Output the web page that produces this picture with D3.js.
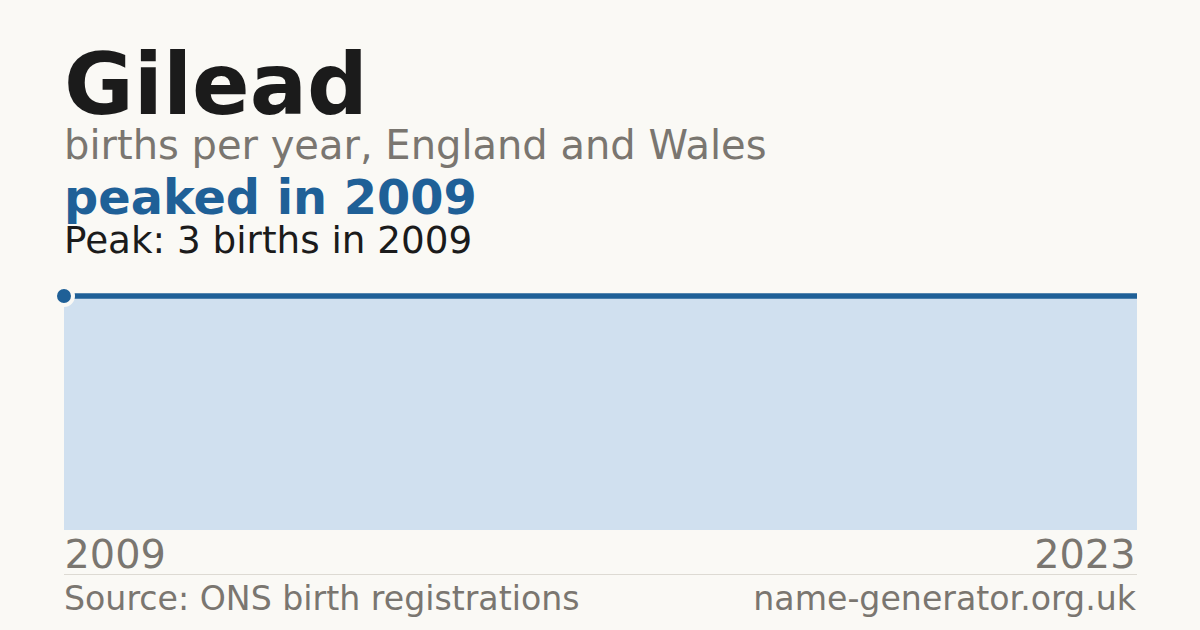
<!DOCTYPE html>
<html><head><meta charset="utf-8">
<script src="https://cdn.jsdelivr.net/npm/d3@7"></script>
<style>html,body{margin:0;padding:0;background:#faf9f5;}svg{display:block;font-family:"DejaVu Sans",sans-serif;}</style>
</head><body>
<script>
const years = [2009,2010,2011,2012,2013,2014,2015,2016,2017,2018,2019,2020,2021,2022,2023];
const births = [3,3,3,3,3,3,3,3,3,3,3,3,3,3,3];
const tickLabels = ["2009","2023"];
const title = "Gilead";
const subtitle = "births per year, England and Wales";
const headline = "peaked in 2009";
const peakNote = "Peak: 3 births in 2009";
const sourceText = "Source: ONS birth registrations";
const siteText = "name-generator.org.uk";

const W = 1200, H = 630;
const svg = d3.select("body").append("svg").attr("width", W).attr("height", H);
svg.append("rect").attr("width", W).attr("height", H).attr("fill", "#faf9f5");

const data = years.map((y,i)=>({year:y, value:births[i]}));
const x = d3.scaleLinear().domain([years[0], years[years.length-1]]).range([64, 1137]);
const y = d3.scaleLinear().domain([0, d3.max(births)]).range([530, 296]);

svg.append("text").attr("x",64).attr("y",114).attr("font-size",85).attr("font-weight","bold").attr("fill","#1b1b1b").text(title);
svg.append("text").attr("x",64).attr("y",159).attr("font-size",40).attr("fill","#7a7670").text(subtitle);
svg.append("text").attr("x",64).attr("y",214).attr("font-size",47.8).attr("font-weight","bold").attr("fill","#1f6097").text(headline);
svg.append("text").attr("x",64).attr("y",253).attr("font-size",37.3).attr("fill","#1b1b1b").text(peakNote);

svg.append("path").datum(data)
  .attr("d", d3.area().x(d=>x(d.year)).y0(y(0)).y1(d=>y(d.value)))
  .attr("fill","#d0e0ef");
svg.append("path").datum(data)
  .attr("d", d3.line().x(d=>x(d.year)).y(d=>y(d.value)))
  .attr("fill","none").attr("stroke","#1f6097").attr("stroke-width",5.5);

const peakIdx = births.indexOf(d3.max(births));
svg.append("circle").attr("cx", x(years[peakIdx])).attr("cy", y(births[peakIdx])).attr("r",9)
  .attr("fill","#1f6097").attr("stroke","#faf9f5").attr("stroke-width",4);

const axis = d3.axisBottom(x).tickValues([years[0], years[years.length-1]]).tickFormat((d,i)=>tickLabels[i]).tickSize(0).tickPadding(0);
const ax = svg.append("g").attr("transform","translate(0,530)").call(axis);
ax.select(".domain").remove();
ax.selectAll("text").attr("font-size",39.8).attr("fill","#7a7670").attr("font-family","DejaVu Sans")
  .attr("dy",null).attr("y",38)
  .attr("text-anchor",(d,i)=> i===0 ? "start" : "end")
  .attr("x",(d,i)=> i===0 ? 0 : -2);

svg.append("line").attr("x1",64).attr("x2",1137).attr("y1",574.5).attr("y2",574.5).attr("stroke","#dddad3").attr("stroke-width",1);
svg.append("text").attr("x",64).attr("y",610).attr("font-size",33.2).attr("fill","#7a7670").text(sourceText);
svg.append("text").attr("x",1136).attr("y",610).attr("font-size",33.2).attr("fill","#7a7670").attr("text-anchor","end").text(siteText);
</script>
</body></html>
